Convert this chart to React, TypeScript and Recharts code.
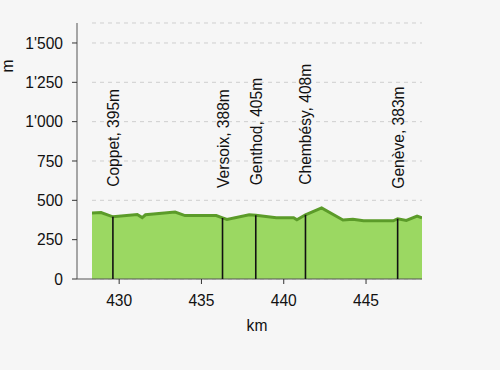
import React from 'react';
import { AreaChart, Area, XAxis, YAxis, ReferenceLine, CartesianGrid, Label } from 'recharts';

const profileKm = [428.35, 428.9, 429.62, 431.1, 431.4, 431.6, 433.4, 434.0, 435.9, 436.28, 436.55, 437.9, 438.3, 439.55, 440.6, 440.8, 441.32, 442.3, 443.6, 444.2, 444.85, 446.65, 446.92, 447.45, 448.1, 448.4];
const profileElevation = [420, 422, 395, 410, 390, 408, 425, 403, 403, 388, 378, 408, 405, 390, 390, 376, 408, 452, 375, 380, 370, 370, 383, 372, 400, 388];

const townNames = ['Coppet', 'Versoix', 'Genthod', 'Chembésy', 'Genève'];
const townKm = [429.62, 436.28, 438.3, 441.32, 446.92];
const townElevation = [395, 388, 405, 408, 383];

const yTicks = [0, 250, 500, 750, 1000, 1250, 1500];
const xTicks = [430, 435, 440, 445];

const data = profileKm.map((km, i) => ({ km, elevation: profileElevation[i] }));

const FONT = '"Liberation Sans", Arial, Helvetica, sans-serif';
const FS = 15.6;

function fmt(v: number) {
  if (v >= 1000) return `${Math.floor(v / 1000)}'${String(v % 1000).padStart(3, '0')}`;
  return String(v);
}

const TownLabel = (props: any) => {
  const { viewBox, text } = props;
  if (!viewBox) return null;
  const x = viewBox.x + 6;
  const y = viewBox.y - 30;
  return (
    <text x={x} y={y} transform={`rotate(-90 ${x} ${y})`} fontSize={FS} fill="#111" textAnchor="start" fontFamily={FONT}>
      {text}
    </text>
  );
};

const KmLabel = (props: any) => {
  const { viewBox } = props;
  if (!viewBox) return null;
  const cx = viewBox.x + 15 + (viewBox.width - 15) / 2;
  return (
    <text x={cx} y={331} textAnchor="middle" fontSize={FS} fill="#111" fontFamily={FONT}>km</text>
  );
};

const MLabel = () => (
  <text x={13} y={66} transform="rotate(-90 13 66)" textAnchor="middle" fontSize={FS} fill="#111" fontFamily={FONT}>m</text>
);

export default function App() {
  return (
    <>
      <style>{`html,body{margin:0;padding:0;background:#f6f6f6;} svg text{font-family:${FONT};}`}</style>
      <AreaChart width={500} height={370} data={data} margin={{ top: 23, right: 78, bottom: 31, left: 0 }}>
        <CartesianGrid vertical={false} x={92} width={330} stroke="#cfcfcf" strokeDasharray="4 4" />
        <XAxis
          dataKey="km"
          type="number"
          domain={[428.35, 448.4]}
          ticks={xTicks}
          padding={{ left: 15, right: 0 }}
          axisLine={false}
          tickLine={{ stroke: '#333' }}
          tickSize={5}
          tickMargin={11}
          height={60}
          tick={{ fill: '#111', fontSize: FS }}
          allowDataOverflow
        >
          <Label content={<KmLabel />} />
        </XAxis>
        <YAxis
          type="number"
          domain={[0, 1627]}
          ticks={yTicks}
          width={77}
          tickFormatter={fmt}
          axisLine={{ stroke: '#555' }}
          tickLine={{ stroke: '#333' }}
          tickSize={5}
          tickMargin={9}
          tick={{ fill: '#111', fontSize: FS }}
          allowDataOverflow
        >
          <Label content={<MLabel />} />
        </YAxis>
        <Area
          type="linear"
          dataKey="elevation"
          stroke="#5b9b29"
          strokeWidth={3}
          fill="#9bd862"
          fillOpacity={1}
          baseValue={0}
          isAnimationActive={false}
          dot={false}
          activeDot={false}
        />
        <ReferenceLine y={0} stroke="#555" strokeWidth={1.2} />
        {townNames.map((name, i) => (
          <ReferenceLine
            key={name}
            segment={[{ x: townKm[i], y: 0 }, { x: townKm[i], y: townElevation[i] }]}
            stroke="#111"
            strokeWidth={1.6}
            label={<TownLabel text={`${name}, ${townElevation[i]}m`} />}
          />
        ))}
      </AreaChart>
    </>
  );
}
